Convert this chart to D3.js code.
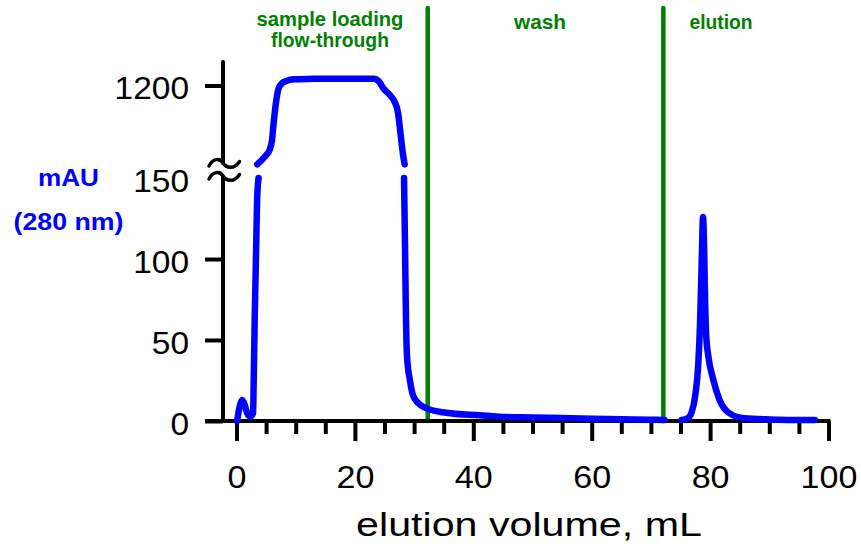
<!DOCTYPE html>
<html><head><meta charset="utf-8">
<script src="https://cdn.jsdelivr.net/npm/d3@7"></script>
<style>html,body{margin:0;padding:0;background:#fff;} svg{display:block;}</style>
</head><body>
<svg id="chart" width="861" height="544"></svg>
<script>
// ---------------- data ----------------
const xMajorTicks = [0, 20, 40, 60, 80, 100];
const xMinorTicks = [5, 10, 15, 25, 30, 35, 45, 50, 55, 65, 70, 75, 85, 90, 95];
const yLowTicks = [0, 50, 100, 150];
const yHighTicks = [1200];
const phaseBoundaries = [32.3, 72.1];
const phaseLabelLines = [["sample loading", "flow-through"], ["wash"], ["elution"]];
const xTitle = "elution volume, mL";
const yTitleLines = ["mAU", "(280 nm)"];

// [mL, mAU] — lower scale segment (0–150)
const segLoadRise = [[0.1,0],[0.67,10.9],[0.96,13],[1.4,9.9],[1.8,4.7],[2.35,2.7],[2.8,4.7],[2.9,23],[3.08,64],[3.31,105],[3.48,136],[3.72,150]];
// upper scale segment (150–1300)
const segLoadPlateau = [[3.5,145],[4.88,257],[5.6,337],[6.0,471],[6.27,694],[6.73,1006],[7.12,1163],[7.69,1229],[8.53,1264],[9.64,1283],[12,1288],[16,1290],[20,1290],[23.2,1290],[24.1,1251],[24.8,1163],[25.9,1073],[26.7,983],[27.3,828],[27.7,561],[28.1,293],[28.4,146]];
// lower scale segment
const segWash = [[28.3,150],[28.45,112],[28.6,70],[28.8,40],[29.3,25],[29.8,16],[30.7,11],[32.1,7.8],[35.4,5.1],[41,3.5],[44.4,2.7],[50,2.2],[55,1.8],[60,1.4],[65,1.1],[70,0.8],[72.3,0.6]];
const segElution = [[75.2,0.6],[76.2,1.6],[76.9,5.5],[77.5,16],[78.0,35],[78.3,60],[78.6,101],[78.8,126],[79.0,105],[79.15,75],[79.35,52],[79.7,40],[80.5,26],[81.6,13],[83.3,4.7],[85.8,1.7],[90,1.0],[97.7,0.6]];

// ---------------- layout ----------------
const FONT = "'Liberation Sans', Arial, Helvetica, sans-serif";
const BLUE = "#0000ff", GREEN = "#008000";
const svg = d3.select("#chart");
const x = d3.scaleLinear().domain([0, 100]).range([236.5, 828.5]);
const yLow = d3.scaleLinear().domain([0, 150]).range([421, 178]);
const yHigh = d3.scaleLinear().domain([150, 1200]).range([164, 85.5]);
const axisX = 223, axisY = 421;

function stretchTo(sel, target) {
  sel.each(function () {
    const w = this.getBBox().width;
    const s = target / w;
    const ax = +this.getAttribute("x") || 0;
    d3.select(this).attr("transform", `translate(${ax},0) scale(${s},1) translate(${-ax},0)`);
  });
}
function stretchBy(sel, s) {
  sel.each(function () {
    const ax = +this.getAttribute("x") || 0;
    d3.select(this).attr("transform", `translate(${ax},0) scale(${s},1) translate(${-ax},0)`);
  });
}

// phase boundary lines
svg.append("g").selectAll("line").data(phaseBoundaries).join("line")
  .attr("x1", d => x(d)).attr("x2", d => x(d))
  .attr("y1", 8).attr("y2", axisY)
  .attr("stroke", GREEN).attr("stroke-width", 4.5).attr("stroke-linecap", "round");

// x axis
const gx = svg.append("g").attr("transform", `translate(0,${axisY})`)
  .call(d3.axisBottom(x).tickValues(xMajorTicks).tickSize(20).tickSizeOuter(0).tickFormat(d3.format("d")));
gx.select(".domain").remove();
gx.selectAll(".tick line").attr("stroke", "#000").attr("stroke-width", 4);
gx.selectAll(".tick text").attr("y", 67).attr("dy", 0)
  .attr("font-family", FONT).attr("font-size", 31).attr("fill", "#000");
stretchBy(gx.selectAll(".tick text"), 1.1);

const gxm = svg.append("g").attr("transform", `translate(0,${axisY})`)
  .call(d3.axisBottom(x).tickValues(xMinorTicks).tickSize(13).tickSizeOuter(0).tickFormat(""));
gxm.select(".domain").remove();
gxm.selectAll(".tick line").attr("stroke", "#000").attr("stroke-width", 4);

svg.append("line").attr("x1", 205).attr("x2", x(100) + 2).attr("y1", axisY).attr("y2", axisY)
  .attr("stroke", "#000").attr("stroke-width", 4);

// y axis lower
const gyl = svg.append("g").attr("transform", `translate(${axisX},0)`)
  .call(d3.axisLeft(yLow).tickValues(yLowTicks).tickSize(18).tickSizeOuter(0).tickFormat(d3.format("d")));
gyl.select(".domain").remove();
gyl.selectAll(".tick line").attr("stroke", "#000").attr("stroke-width", 4)
  .filter(d => d === 150).remove();
gyl.selectAll(".tick text").attr("x", -34).attr("y", 13).attr("dy", 0)
  .attr("font-family", FONT).attr("font-size", 31).attr("fill", "#000");
stretchBy(gyl.selectAll(".tick text"), 1.08);

// y axis upper
const gyh = svg.append("g").attr("transform", `translate(${axisX},0)`)
  .call(d3.axisLeft(yHigh).tickValues(yHighTicks).tickSize(18).tickSizeOuter(0).tickFormat(d3.format("d")));
gyh.select(".domain").remove();
gyh.selectAll(".tick line").attr("stroke", "#000").attr("stroke-width", 4);
gyh.selectAll(".tick text").attr("x", -34).attr("y", 13).attr("dy", 0)
  .attr("font-family", FONT).attr("font-size", 31).attr("fill", "#000");
stretchBy(gyh.selectAll(".tick text"), 1.08);

// axis lines with break
svg.append("line").attr("x1", axisX).attr("x2", axisX).attr("y1", axisY + 2).attr("y2", yLow(150) - 1)
  .attr("stroke", "#000").attr("stroke-width", 4);
svg.append("line").attr("x1", axisX).attr("x2", axisX).attr("y1", yHigh(150) - 1).attr("y2", 62)
  .attr("stroke", "#000").attr("stroke-width", 4).attr("stroke-linecap", "round");

// break squiggles
[yHigh(150) - 0.5, yLow(150) - 1.5].forEach(cy => {
  svg.append("path")
    .attr("d", `M209,${cy + 2.5} C213,${cy - 5.5} 220,${cy - 5.5} 223,${cy - 0.5} C226,${cy + 4.5} 234,${cy + 6.5} 239.5,${cy - 2}`)
    .attr("fill", "none").attr("stroke", "#000").attr("stroke-width", 3.5).attr("stroke-linecap", "round");
});

// curves
const lineLow = d3.line().x(d => x(d[0])).y(d => yLow(d[1])).curve(d3.curveMonotoneX);
const lineHigh = d3.line().x(d => x(d[0])).y(d => yHigh(d[1])).curve(d3.curveMonotoneX);
const curveStyle = p => p.attr("fill", "none").attr("stroke", BLUE).attr("stroke-width", 6.5)
  .attr("stroke-linecap", "round").attr("stroke-linejoin", "round");
svg.append("path").datum(segLoadRise).attr("d", lineLow).call(curveStyle);
svg.append("path").datum(segLoadPlateau).attr("d", lineHigh).call(curveStyle);
svg.append("path").datum(segWash).attr("d", lineLow).call(curveStyle);
svg.append("path").datum(segElution).attr("d", lineLow).call(curveStyle);

// phase labels
const labelSpecs = [
  { cx: 330, lines: phaseLabelLines[0], ys: [26.5, 47], widths: [147, 118] },
  { cx: 540, lines: phaseLabelLines[1], ys: [29.5], widths: [53] },
  { cx: 721, lines: phaseLabelLines[2], ys: [29.5], widths: [63] }
];
labelSpecs.forEach(spec => {
  spec.lines.forEach((t, i) => {
    const el = svg.append("text").attr("x", spec.cx).attr("y", spec.ys[i])
      .attr("text-anchor", "middle").attr("font-family", FONT).attr("font-weight", "bold")
      .attr("font-size", 19.5).attr("fill", GREEN).text(t);
    stretchTo(el, spec.widths[i]);
  });
});

// y title
[[yTitleLines[0], 186, 61], [yTitleLines[1], 230, 110]].forEach(([t, y, w]) => {
  const el = svg.append("text").attr("x", 68.5).attr("y", y).attr("text-anchor", "middle")
    .attr("font-family", FONT).attr("font-weight", "bold").attr("font-size", 24.5)
    .attr("fill", BLUE).text(t);
  stretchTo(el, w);
});

// x title
const xt = svg.append("text").attr("x", 529).attr("y", 536).attr("text-anchor", "middle")
  .attr("font-family", FONT).attr("font-size", 34).attr("fill", "#000").text(xTitle);
stretchTo(xt, 346);
</script>
</body></html>
